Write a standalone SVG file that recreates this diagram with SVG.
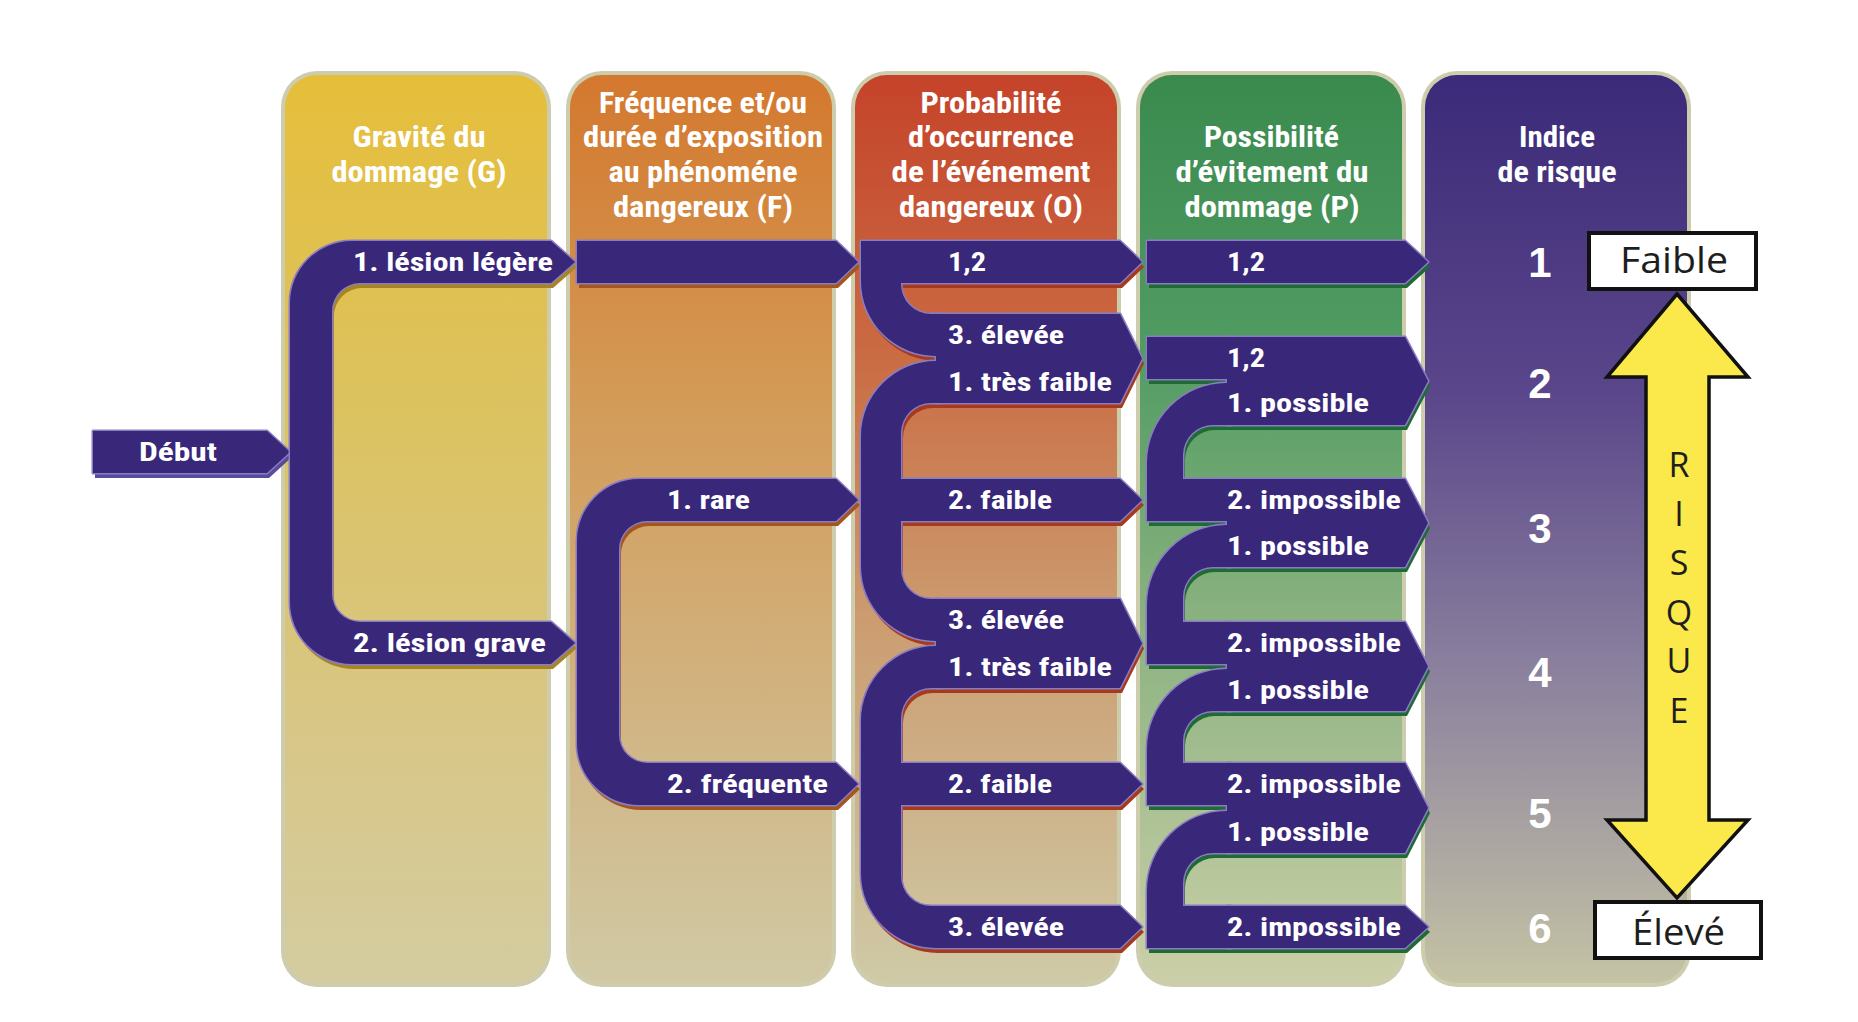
<svg xmlns="http://www.w3.org/2000/svg" width="1858" height="1022" viewBox="0 0 1858 1022">
  <style>
    .frame { fill: #cdcdae; }
    .hdr { font-family: "Liberation Sans Narrow", "Roboto Condensed", "Arial Narrow", "Liberation Sans", sans-serif; font-weight: 700; font-size: 30px; fill: #ffffff; }
    .lbl { font-family: "Liberation Sans Narrow", "Roboto Condensed", "Arial Narrow", "Liberation Sans", sans-serif; font-weight: 700; font-size: 26px; fill: #ffffff; }
    .idx { font-family: "Liberation Sans", Arial, sans-serif; font-weight: 700; font-size: 42px; fill: #ffffff; text-anchor: middle; }
    .tag { font-family: "Open Sans", "Liberation Sans", sans-serif; font-size: 36px; fill: #1e1e1e; }
    .risk { font-family: "Open Sans", "Liberation Sans", sans-serif; font-size: 34px; fill: #1e1e1e; text-anchor: middle; }
    .box { fill: #ffffff; stroke: #111111; stroke-width: 4; }
    .edge { fill: #392779; stroke: #8a7cc0; stroke-width: 3; stroke-linejoin: round; }
    .body { fill: #392779; }
    .sh-start { fill: #5a4a9c; }
    .sh-g { fill: #a8861f; }
    .sh-f { fill: #a4561f; }
    .sh-o { fill: #a63a1e; }
    .sh-p { fill: #1f6b36; }
  </style>
  <defs>
    <linearGradient id="grad-g" x1="0" y1="0" x2="0" y2="1">
      <stop offset="0" stop-color="#e6be3a"/>
      <stop offset="0.35" stop-color="#dcc25e"/>
      <stop offset="0.7" stop-color="#d8c684"/>
      <stop offset="1" stop-color="#d4cca0"/>
    </linearGradient>
    <linearGradient id="grad-f" x1="0" y1="0" x2="0" y2="1">
      <stop offset="0" stop-color="#d4782e"/>
      <stop offset="0.35" stop-color="#d39a56"/>
      <stop offset="0.7" stop-color="#d1b482"/>
      <stop offset="1" stop-color="#d0c9a4"/>
    </linearGradient>
    <linearGradient id="grad-o" x1="0" y1="0" x2="0" y2="1">
      <stop offset="0" stop-color="#c5432a"/>
      <stop offset="0.3" stop-color="#ca6a42"/>
      <stop offset="0.6" stop-color="#cc9c70"/>
      <stop offset="1" stop-color="#cfcaa6"/>
    </linearGradient>
    <linearGradient id="grad-p" x1="0" y1="0" x2="0" y2="1">
      <stop offset="0" stop-color="#3a8a4e"/>
      <stop offset="0.3" stop-color="#509b62"/>
      <stop offset="0.6" stop-color="#8ab280"/>
      <stop offset="1" stop-color="#cbcfa8"/>
    </linearGradient>
    <linearGradient id="grad-i" x1="0" y1="0" x2="0" y2="1">
      <stop offset="0" stop-color="#3b2a79"/>
      <stop offset="0.35" stop-color="#5a468a"/>
      <stop offset="0.65" stop-color="#8a809e"/>
      <stop offset="1" stop-color="#c5c3a5"/>
    </linearGradient>

    <!-- band shapes, reused for shadow, outline and fill layers -->
    <g id="br-start">
      <path d="M93,431 H267 L290,452 L267,473 H93 Z"/>
    </g>
    <g id="br-g">
      <path d="M290,303 A62,62 0 0 1 352,241 H551 L575,262 L551,283 H360 A28,28 0 0 0 332,311 V594 A28,28 0 0 0 360,622 H551 L575,643 L551,664 H352 A62,62 0 0 1 290,602 Z"/>
    </g>
    <g id="br-f">
      <path d="M577,241 H836 L858,262 L836,283 H577 Z"/>
      <path d="M577,541 A62,62 0 0 1 639,479 H836 L858,500 L836,521 H647 A28,28 0 0 0 619,549 V735 A28,28 0 0 0 647,763 H836 L858,784 L836,805 H639 A62,62 0 0 1 577,743 Z"/>
    </g>
    <g id="br-o">
      <path d="M861,241 H1120 L1142,262 L1120,283 H901 V284 A30,30 0 0 0 931,314 H940 V356 H936 A75,75 0 0 1 861,281 Z"/>
      <path d="M936,314 H1120 L1142,358.5 L1120,403 H936 Z"/>
      <path d="M861,436 A75,75 0 0 1 936,361 H940 V403 H931 A30,30 0 0 0 901,433 V479 H1120 L1142,500 L1120,521 H901 V569 A30,30 0 0 0 931,599 H940 V641 H936 A75,75 0 0 1 861,566 Z"/>
      <path d="M936,599 H1120 L1142,643.5 L1120,688 H936 Z"/>
      <path d="M861,721 A75,75 0 0 1 936,646 H940 V688 H931 A30,30 0 0 0 901,718 V763 H1120 L1142,784 L1120,805 H901 V876 A30,30 0 0 0 931,906 H1120 L1142,927 L1120,948 H936 A75,75 0 0 1 861,873 Z"/>
    </g>
    <g id="br-p">
      <path d="M1147,241 H1405 L1428,262 L1405,283 H1147 Z"/>
      <path d="M1147,337 H1231 V379 H1147 Z"/>
      <path d="M1227,337 H1405 L1428,381 L1405,425 H1227 Z"/>
      <path d="M1147,463 A80,80 0 0 1 1227,383 H1231 V425 H1213 A30,30 0 0 0 1183,455 V479 H1231 V521 H1147 Z"/>
      <path d="M1227,479 H1405 L1428,523 L1405,567 H1227 Z"/>
      <path d="M1147,605 A80,80 0 0 1 1227,525 H1231 V567 H1213 A30,30 0 0 0 1183,597 V622 H1231 V664 H1147 Z"/>
      <path d="M1227,622 H1405 L1428,666.5 L1405,711 H1227 Z"/>
      <path d="M1147,749 A80,80 0 0 1 1227,669 H1231 V711 H1213 A30,30 0 0 0 1183,741 V763 H1231 V805 H1147 Z"/>
      <path d="M1227,763 H1405 L1428,808 L1405,853 H1227 Z"/>
      <path d="M1147,891 A80,80 0 0 1 1227,811 H1231 V853 H1213 A30,30 0 0 0 1183,883 V906 H1231 V948 H1147 Z"/>
      <path d="M1227,906 H1405 L1428,927 L1405,948 H1227 Z"/>
    </g>
  </defs>

  <rect width="1858" height="1022" fill="#ffffff"/>

  <!-- criterion columns -->
  <g id="col-gravite">
    <rect class="frame" x="281" y="71" width="270" height="916" rx="36"/>
    <rect x="285" y="75" width="262" height="908" rx="32" fill="url(#grad-g)"/>
    <text class="hdr" x="352.5" y="147" textLength="133" lengthAdjust="spacingAndGlyphs">Gravité du</text>
    <text class="hdr" x="331.5" y="182" textLength="175" lengthAdjust="spacingAndGlyphs">dommage (G)</text>
  </g>
  <g id="col-frequence">
    <rect class="frame" x="566" y="71" width="270" height="916" rx="36"/>
    <rect x="570" y="75" width="262" height="908" rx="32" fill="url(#grad-f)"/>
    <text class="hdr" x="599" y="113" textLength="208" lengthAdjust="spacingAndGlyphs">Fréquence et/ou</text>
    <text class="hdr" x="583" y="147" textLength="240" lengthAdjust="spacingAndGlyphs">durée d’exposition</text>
    <text class="hdr" x="608.5" y="182" textLength="189" lengthAdjust="spacingAndGlyphs">au phénoméne</text>
    <text class="hdr" x="613" y="217" textLength="180" lengthAdjust="spacingAndGlyphs">dangereux (F)</text>
  </g>
  <g id="col-probabilite">
    <rect class="frame" x="851" y="71" width="270" height="916" rx="36"/>
    <rect x="855" y="75" width="262" height="908" rx="32" fill="url(#grad-o)"/>
    <text class="hdr" x="920.5" y="113" textLength="141" lengthAdjust="spacingAndGlyphs">Probabilité</text>
    <text class="hdr" x="908" y="147" textLength="166" lengthAdjust="spacingAndGlyphs">d’occurrence</text>
    <text class="hdr" x="891.5" y="182" textLength="199" lengthAdjust="spacingAndGlyphs">de l’événement</text>
    <text class="hdr" x="899" y="217" textLength="184" lengthAdjust="spacingAndGlyphs">dangereux (O)</text>
  </g>
  <g id="col-possibilite">
    <rect class="frame" x="1136" y="71" width="270" height="916" rx="36"/>
    <rect x="1140" y="75" width="262" height="908" rx="32" fill="url(#grad-p)"/>
    <text class="hdr" x="1204" y="147" textLength="135" lengthAdjust="spacingAndGlyphs">Possibilité</text>
    <text class="hdr" x="1175.5" y="182" textLength="193" lengthAdjust="spacingAndGlyphs">d’évitement du</text>
    <text class="hdr" x="1184.5" y="217" textLength="175" lengthAdjust="spacingAndGlyphs">dommage (P)</text>
  </g>
  <g id="col-indice">
    <rect class="frame" x="1421" y="71" width="270" height="916" rx="36"/>
    <rect x="1425" y="75" width="262" height="908" rx="32" fill="url(#grad-i)"/>
    <text class="hdr" x="1519" y="147" textLength="76" lengthAdjust="spacingAndGlyphs">Indice</text>
    <text class="hdr" x="1497.5" y="182" textLength="119" lengthAdjust="spacingAndGlyphs">de risque</text>
    <text class="idx" x="1540" y="277">1</text>
    <text class="idx" x="1540" y="398">2</text>
    <text class="idx" x="1540" y="543">3</text>
    <text class="idx" x="1540" y="687">4</text>
    <text class="idx" x="1540" y="828">5</text>
    <text class="idx" x="1540" y="943">6</text>
  </g>

  <!-- decision branches -->
  <g id="connectors">
    <use href="#br-start" class="sh-start" transform="translate(2,5)"/>
    <use href="#br-start" class="edge"/>
    <use href="#br-start" class="body"/>
    <use href="#br-g" class="sh-g" transform="translate(2,5)"/>
    <use href="#br-g" class="edge"/>
    <use href="#br-g" class="body"/>
    <use href="#br-f" class="sh-f" transform="translate(2,5)"/>
    <use href="#br-f" class="edge"/>
    <use href="#br-f" class="body"/>
    <use href="#br-o" class="sh-o" transform="translate(2,5)"/>
    <use href="#br-o" class="edge"/>
    <use href="#br-o" class="body"/>
    <use href="#br-p" class="sh-p" transform="translate(2,5)"/>
    <use href="#br-p" class="edge"/>
    <use href="#br-p" class="body"/>
  </g>

  <!-- option labels -->
  <g id="node-debut">
    <text class="lbl" x="139" y="461" textLength="78" lengthAdjust="spacingAndGlyphs">Début</text>
  </g>
  <g id="options-g">
    <text class="lbl" x="353" y="271" textLength="200" lengthAdjust="spacingAndGlyphs">1. lésion légère</text>
    <text class="lbl" x="353" y="652" textLength="193" lengthAdjust="spacingAndGlyphs">2. lésion grave</text>
  </g>
  <g id="options-f">
    <text class="lbl" x="667" y="509" textLength="83" lengthAdjust="spacingAndGlyphs">1. rare</text>
    <text class="lbl" x="667" y="793" textLength="161" lengthAdjust="spacingAndGlyphs">2. fréquente</text>
  </g>
  <g id="options-o">
    <text class="lbl" x="948" y="271" textLength="38" lengthAdjust="spacingAndGlyphs">1,2</text>
    <text class="lbl" x="948" y="344" textLength="116" lengthAdjust="spacingAndGlyphs">3. élevée</text>
    <text class="lbl" x="948" y="391" textLength="164" lengthAdjust="spacingAndGlyphs">1. très faible</text>
    <text class="lbl" x="948" y="509" textLength="104" lengthAdjust="spacingAndGlyphs">2. faible</text>
    <text class="lbl" x="948" y="629" textLength="116" lengthAdjust="spacingAndGlyphs">3. élevée</text>
    <text class="lbl" x="948" y="676" textLength="164" lengthAdjust="spacingAndGlyphs">1. très faible</text>
    <text class="lbl" x="948" y="793" textLength="104" lengthAdjust="spacingAndGlyphs">2. faible</text>
    <text class="lbl" x="948" y="936" textLength="116" lengthAdjust="spacingAndGlyphs">3. élevée</text>
  </g>
  <g id="options-p">
    <text class="lbl" x="1227" y="271" textLength="38" lengthAdjust="spacingAndGlyphs">1,2</text>
    <text class="lbl" x="1227" y="367" textLength="38" lengthAdjust="spacingAndGlyphs">1,2</text>
    <text class="lbl" x="1227" y="412" textLength="142" lengthAdjust="spacingAndGlyphs">1. possible</text>
    <text class="lbl" x="1227" y="509" textLength="174" lengthAdjust="spacingAndGlyphs">2. impossible</text>
    <text class="lbl" x="1227" y="555" textLength="142" lengthAdjust="spacingAndGlyphs">1. possible</text>
    <text class="lbl" x="1227" y="652" textLength="174" lengthAdjust="spacingAndGlyphs">2. impossible</text>
    <text class="lbl" x="1227" y="699" textLength="142" lengthAdjust="spacingAndGlyphs">1. possible</text>
    <text class="lbl" x="1227" y="793" textLength="174" lengthAdjust="spacingAndGlyphs">2. impossible</text>
    <text class="lbl" x="1227" y="841" textLength="142" lengthAdjust="spacingAndGlyphs">1. possible</text>
    <text class="lbl" x="1227" y="936" textLength="174" lengthAdjust="spacingAndGlyphs">2. impossible</text>
  </g>

  <!-- risk scale -->
  <g id="risk-arrow">
    <polygon points="1677,294 1748,377 1709,377 1709,820 1748,820 1677,898 1607,820 1646,820 1646,377 1607,377" fill="#fbe94b" stroke="#111111" stroke-width="3.5" stroke-linejoin="miter"/>
    <text class="risk" x="1679" y="477">R</text>
    <text class="risk" x="1679" y="526">I</text>
    <text class="risk" x="1679" y="575">S</text>
    <text class="risk" x="1679" y="625">Q</text>
    <text class="risk" x="1679" y="673">U</text>
    <text class="risk" x="1679" y="723">E</text>
  </g>
  <g id="tag-faible">
    <rect class="box" x="1589" y="233" width="167" height="56"/>
    <text class="tag" x="1620" y="273" textLength="108" lengthAdjust="spacingAndGlyphs">Faible</text>
  </g>
  <g id="tag-eleve">
    <rect class="box" x="1595" y="902" width="166" height="56"/>
    <text class="tag" x="1632" y="945" textLength="93" lengthAdjust="spacingAndGlyphs">Élevé</text>
  </g>
</svg>
